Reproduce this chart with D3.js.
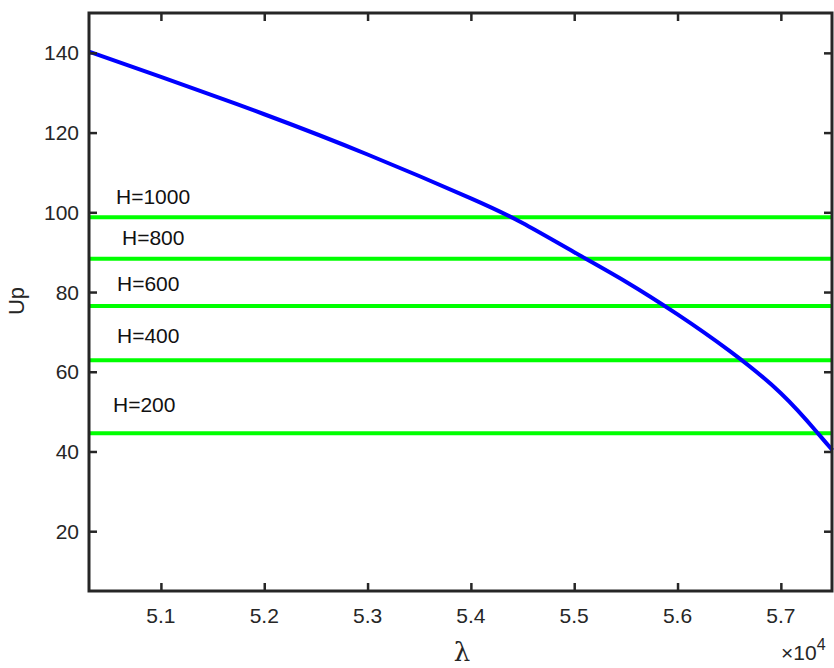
<!DOCTYPE html>
<html>
<head>
<meta charset="utf-8">
<script src="https://cdn.jsdelivr.net/npm/d3@7"></script>
<style>
  body { margin: 0; background: #fff; }
  svg { display: block; font-family: "Liberation Sans", Arial, sans-serif; }
</style>
</head>
<body>
<div id="container"></div>
<script>
const WIDTH = 834;
const HEIGHT = 668;
const LEFT = 89, RIGHT = 832, TOP = 13, BOTTOM = 591;

// curve (lambda, Up)
var lambdaValues = [50304, 51000, 52000, 53000, 54000, 54500, 55000, 55500, 56000, 56500, 57000, 57357, 57500];
var upValues = [140.3, 134.0, 124.6, 114.5, 103.5, 97.3, 90.0, 82.6, 74.4, 65.3, 54.6, 44.6, 40.3];

// horizontal levels
var levelNames = ["H=1000", "H=800", "H=600", "H=400", "H=200"];
var levelValues = [98.75, 88.35, 76.5, 62.9, 44.6];

var xTicks = [51000, 52000, 53000, 54000, 55000, 56000, 57000];
var yTicks = [20, 40, 60, 80, 100, 120, 140];

var translate = function (x, y) {
    return "translate(" + x + "," + y + ")";
};

var createChart = function () {
    var svg = d3.select("#container").append("svg")
        .attr("width", WIDTH)
        .attr("height", HEIGHT);

    var xScale = d3.scaleLinear().domain([50304, 57495]).range([LEFT, RIGHT]);
    var yScale = d3.scaleLinear().domain([5, 150]).range([BOTTOM, TOP]);

    var axisColor = "#262626";
    var tickLen = 8;

    // green levels
    svg.selectAll(".level").data(levelValues).enter()
        .append("line")
        .attr("x1", LEFT).attr("x2", RIGHT)
        .attr("y1", function (d) { return yScale(d); })
        .attr("y2", function (d) { return yScale(d); })
        .attr("stroke", "#00ff00")
        .attr("stroke-width", 4);

    // level labels (offset above each line)
    var labelX = [116, 122, 117, 117, 113];
    var labelDy = [-13, -14, -15, -17, -21];
    svg.selectAll(".lvlText").data(levelNames).enter()
        .append("text")
        .attr("x", function (d, i) { return labelX[i]; })
        .attr("y", function (d, i) { return yScale(levelValues[i]) + labelDy[i]; })
        .attr("font-size", 21)
        .attr("fill", "#111")
        .text(function (d) { return d; });

    // blue curve
    var data = lambdaValues.map(function (v, i) { return {x: v, y: upValues[i]}; });
    var line = d3.line()
        .x(function (d) { return xScale(d.x); })
        .y(function (d) { return yScale(d.y); })
        .curve(d3.curveNatural);

    svg.append("path")
        .attr("d", line(data))
        .attr("fill", "none")
        .attr("stroke", "#0000ff")
        .attr("stroke-width", 4);

    // axes, ticks pointing inward
    var xBottom = d3.axisTop(xScale).tickValues(xTicks).tickSize(tickLen).tickFormat("");
    var xTop = d3.axisBottom(xScale).tickValues(xTicks).tickSize(tickLen).tickFormat("");
    var yLeft = d3.axisRight(yScale).tickValues(yTicks).tickSize(tickLen).tickFormat("");
    var yRight = d3.axisLeft(yScale).tickValues(yTicks).tickSize(tickLen).tickFormat("");

    [[xBottom, translate(0, BOTTOM)], [xTop, translate(0, TOP)],
     [yLeft, translate(LEFT, 0)], [yRight, translate(RIGHT, 0)]].forEach(function (a) {
        var g = svg.append("g").attr("transform", a[1]).call(a[0]);
        g.select(".domain").remove();
        g.selectAll("line").attr("stroke", axisColor).attr("stroke-width", 2.5);
    });

    svg.append("rect")
        .attr("x", LEFT).attr("y", TOP)
        .attr("width", RIGHT - LEFT).attr("height", BOTTOM - TOP)
        .attr("fill", "none")
        .attr("stroke", axisColor)
        .attr("stroke-width", 3);

    // tick labels
    svg.selectAll(".xl").data(xTicks).enter()
        .append("text")
        .attr("x", function (d) { return xScale(d); })
        .attr("y", 623)
        .attr("text-anchor", "middle")
        .attr("font-size", 21)
        .attr("fill", "#262626")
        .text(function (d) { return d3.format(".1f")(d / 1e4); });

    svg.selectAll(".yl").data(yTicks).enter()
        .append("text")
        .attr("x", 79)
        .attr("y", function (d) { return yScale(d); })
        .attr("dy", "0.36em")
        .attr("text-anchor", "end")
        .attr("font-size", 21)
        .attr("fill", "#262626")
        .text(function (d) { return d; });

    // axis titles
    svg.append("text")
        .attr("transform", translate(24, 301) + " rotate(-90)")
        .attr("text-anchor", "middle")
        .attr("font-size", 22)
        .attr("fill", "#262626")
        .text("Up");

    svg.append("text")
        .attr("x", 462).attr("y", 661)
        .attr("text-anchor", "middle")
        .attr("font-size", 26)
        .attr("font-family", "DejaVu Serif, serif")
        .attr("fill", "#262626")
        .text("λ");

    var exp = svg.append("text")
        .attr("x", 781).attr("y", 660)
        .attr("font-size", 21)
        .attr("fill", "#262626");
    exp.append("tspan").text("×10");
    exp.append("tspan").attr("dy", -10).attr("font-size", 16).text("4");
};

window.onload = createChart;
</script>
</body>
</html>
